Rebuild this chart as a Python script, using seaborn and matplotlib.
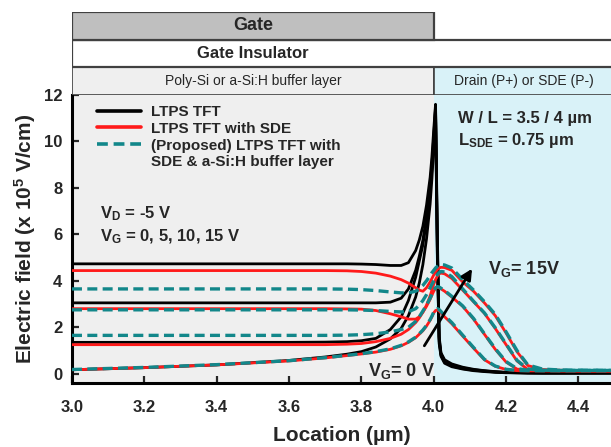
import numpy as np
import pandas as pd
import matplotlib
matplotlib.use("Agg")
import matplotlib.pyplot as plt
from matplotlib.patches import Rectangle
from matplotlib.lines import Line2D
import seaborn as sns

# --- data (location in um, field in 1e5 V/cm) ---
x_loc = [3.00, 3.20, 3.40, 3.60, 3.70, 3.76, 3.80, 3.84, 3.88, 3.91, 3.93, 3.95,
         3.96, 3.97, 3.98, 3.99, 3.995, 4.000, 4.005, 4.010, 4.015, 4.020, 4.030,
         4.050, 4.080, 4.110, 4.140, 4.170, 4.200, 4.230, 4.260, 4.300, 4.350,
         4.400, 4.500]
vg_values = [0, 5, 10, 15]

ltps = {
    15: [4.73, 4.73, 4.73, 4.73, 4.73, 4.73, 4.72, 4.70, 4.66, 4.66, 4.78, 5.30,
         5.75, 6.35, 7.25, 8.45, 9.35, 10.5, 11.6, 6.00, 1.60, 0.90, 0.60,
         0.42, 0.28, 0.19, 0.13, 0.09, 0.06, 0.05, 0.04, 0.03, 0.03, 0.03, 0.03],
    10: [3.05, 3.05, 3.05, 3.05, 3.05, 3.05, 3.05, 3.05, 3.08, 3.25, 3.65, 4.45,
         5.05, 5.75, 6.75, 8.05, 9.00, 10.2, 11.5, 5.50, 1.50, 0.85, 0.55,
         0.38, 0.25, 0.17, 0.12, 0.08, 0.05, 0.04, 0.04, 0.03, 0.03, 0.03, 0.03],
    5:  [1.35, 1.35, 1.35, 1.35, 1.36, 1.38, 1.42, 1.52, 1.90, 2.45, 3.15, 4.15,
         4.85, 5.55, 6.55, 7.85, 8.80, 10.0, 11.4, 5.20, 1.40, 0.80, 0.50,
         0.33, 0.22, 0.15, 0.11, 0.07, 0.05, 0.04, 0.03, 0.03, 0.03, 0.03, 0.03],
    0:  [0.17, 0.26, 0.38, 0.57, 0.72, 0.84, 0.95, 1.15, 1.50, 1.95, 2.50, 3.30,
         3.90, 4.70, 5.80, 7.30, 8.40, 9.80, 11.2, 5.00, 1.30, 0.75, 0.45,
         0.30, 0.20, 0.13, 0.09, 0.06, 0.04, 0.04, 0.03, 0.03, 0.03, 0.03, 0.03],
}
ltps_sde = {
    15: [4.44, 4.44, 4.44, 4.44, 4.44, 4.43, 4.40, 4.33, 4.20, 4.05, 3.90, 3.70,
         3.60, 3.55, 3.70, 3.95, 4.10, 4.25, 4.38, 4.48, 4.55, 4.58, 4.57,
         4.45, 3.95, 3.55, 3.05, 2.50, 1.75, 0.95, 0.35, 0.18, 0.15, 0.13, 0.12],
    10: [2.80, 2.80, 2.80, 2.80, 2.80, 2.79, 2.78, 2.72, 2.58, 2.45, 2.35, 2.35,
         2.45, 2.65, 2.95, 3.35, 3.60, 3.85, 4.05, 4.20, 4.30, 4.33, 4.30,
         4.10, 3.60, 3.10, 2.60, 1.95, 1.25, 0.55, 0.18, 0.14, 0.13, 0.12, 0.12],
    5:  [1.25, 1.25, 1.25, 1.25, 1.25, 1.27, 1.30, 1.38, 1.52, 1.70, 1.90, 2.20,
         2.40, 2.65, 2.90, 3.20, 3.38, 3.55, 3.68, 3.72, 3.70, 3.65, 3.55,
         3.30, 2.90, 2.35, 1.70, 1.05, 0.50, 0.20, 0.14, 0.13, 0.12, 0.12, 0.12],
    0:  [0.17, 0.26, 0.38, 0.55, 0.68, 0.78, 0.85, 0.93, 1.05, 1.20, 1.35, 1.55,
         1.70, 1.85, 2.05, 2.30, 2.45, 2.62, 2.72, 2.75, 2.70, 2.62, 2.45,
         2.15, 1.62, 1.10, 0.60, 0.32, 0.18, 0.13, 0.12, 0.12, 0.12, 0.12, 0.12],
}
proposed = {
    15: [3.65, 3.65, 3.65, 3.65, 3.65, 3.64, 3.62, 3.58, 3.52, 3.48, 3.48, 3.55,
         3.65, 3.80, 4.00, 4.22, 4.35, 4.45, 4.55, 4.62, 4.67, 4.70, 4.68,
         4.55, 4.05, 3.60, 3.10, 2.55, 1.80, 1.00, 0.38, 0.20, 0.16, 0.15, 0.14],
    10: [2.75, 2.75, 2.75, 2.75, 2.75, 2.75, 2.74, 2.72, 2.68, 2.66, 2.67, 2.80,
         2.95, 3.15, 3.40, 3.70, 3.85, 4.00, 4.15, 4.27, 4.35, 4.40, 4.38,
         4.18, 3.65, 3.12, 2.62, 1.98, 1.28, 0.58, 0.20, 0.15, 0.14, 0.14, 0.14],
    5:  [1.65, 1.65, 1.65, 1.65, 1.65, 1.66, 1.68, 1.72, 1.80, 1.90, 2.00, 2.25,
         2.45, 2.70, 2.95, 3.25, 3.42, 3.58, 3.70, 3.75, 3.73, 3.68, 3.58,
         3.33, 2.92, 2.38, 1.72, 1.08, 0.52, 0.22, 0.15, 0.14, 0.14, 0.14, 0.14],
    0:  [0.18, 0.27, 0.39, 0.56, 0.69, 0.79, 0.86, 0.95, 1.07, 1.22, 1.37, 1.57,
         1.72, 1.88, 2.08, 2.33, 2.48, 2.65, 2.76, 2.80, 2.76, 2.68, 2.50,
         2.20, 1.66, 1.13, 0.62, 0.33, 0.19, 0.14, 0.13, 0.13, 0.13, 0.13, 0.13],
}

# --- styles ---
BLACK = "#000000"
RED = "#ff1a1a"
TEAL = "#12878a"
GRAY_BG = "#efefef"
BLUE_BG = "#d9f2f8"

sns.set_theme(style="ticks")
plt.rcParams["font.family"] = ["Liberation Sans", "DejaVu Sans"]
plt.rcParams["font.weight"] = "bold"
plt.rcParams["mathtext.fontset"] = "custom"
plt.rcParams["mathtext.rm"] = "Liberation Sans:bold"
plt.rcParams["mathtext.bf"] = "Liberation Sans:bold"
plt.rcParams["mathtext.it"] = "Liberation Sans:bold"
plt.rcParams["mathtext.default"] = "bf"

fig = plt.figure(figsize=(6.11, 4.47), dpi=100)
ax = fig.add_axes([0.1178, 0.1432, 0.8822, 0.6443])
hx = fig.add_axes([0.1178, 0.7875, 0.8822, 0.1857], sharex=ax)

ax.axvspan(3.0, 4.0, color=GRAY_BG, zorder=0, lw=0)
ax.axvspan(4.0, 4.6, color=BLUE_BG, zorder=0, lw=0)

for vg in vg_values:
    sns.lineplot(x=x_loc, y=ltps[vg], color=BLACK, lw=2.0, ax=ax, zorder=3)
for vg in vg_values:
    sns.lineplot(x=x_loc, y=ltps_sde[vg], color=RED, lw=2.0, ax=ax, zorder=4)
for vg in vg_values:
    sns.lineplot(x=x_loc, y=proposed[vg], color=TEAL, lw=2.4,
                 linestyle=(0, (3, 1.6)), ax=ax, zorder=5)

ax.set_xlim(3.0, 4.49)
ax.set_ylim(-0.4, 12.0)
ax.set_xticks([3.0, 3.2, 3.4, 3.6, 3.8, 4.0, 4.2, 4.4])
ax.set_xticklabels(["3.0", "3.2", "3.4", "3.6", "3.8", "4.0", "4.2", "4.4"])
ax.set_yticks([0, 2, 4, 6, 8, 10, 12])
ax.tick_params(direction="in", length=5, width=1.6, labelsize=12)
ax.tick_params(axis="x", pad=12)
ax.tick_params(axis="y", pad=7)
for lab in ax.get_xticklabels() + ax.get_yticklabels():
    lab.set_fontweight("bold")
for side in ["left", "bottom"]:
    ax.spines[side].set_linewidth(2.2)
    ax.spines[side].set_color("black")
ax.spines["top"].set_visible(False)
ax.spines["right"].set_visible(False)

ax.set_xlabel("Location (µm)", fontsize=15, fontweight="bold", labelpad=8)
ax.set_ylabel("Electric field (x 10$^5$ V/cm)", fontsize=15, fontweight="bold",
              labelpad=4)

# --- legend ---
handles = [Line2D([], [], color=BLACK, lw=2.6),
           Line2D([], [], color=RED, lw=2.6),
           Line2D([], [], color=TEAL, lw=2.6, linestyle=(0, (3, 1.6))),
           Line2D([], [], color="none")]
labels = ["LTPS TFT", "LTPS TFT with SDE", "(Proposed) LTPS TFT with",
          "SDE & a-Si:H buffer layer"]
leg = ax.legend(handles, labels, loc="upper left", bbox_to_anchor=(0.046, 0.965),
                frameon=False, fontsize=11, handlelength=2.9, handletextpad=0.65,
                labelspacing=0.18, borderpad=0, borderaxespad=0)
for t in leg.get_texts():
    t.set_fontweight("bold")

# --- annotations ---
ax.text(3.078, 6.9, "V$_D$ = -5 V", fontsize=12, fontweight="bold", va="center")
ax.text(3.078, 5.9, "V$_G$ = 0, 5, 10, 15 V", fontsize=12, fontweight="bold",
        va="center")
ax.text(4.066, 11.0, "W / L = 3.5 / 4 µm", fontsize=12, fontweight="bold",
        va="center")
ax.text(4.066, 10.05, "L$_{SDE}$ = 0.75 µm", fontsize=12, fontweight="bold",
        va="center")
ax.text(4.15, 4.5, "V$_G$= 15V", fontsize=13, fontweight="bold", va="center",
        zorder=6)
ax.text(3.818, 0.12, "V$_G$= 0 V", fontsize=13, fontweight="bold", va="center",
        zorder=6)
ax.annotate("", xy=(4.11, 4.62), xytext=(3.97, 1.1),
            arrowprops=dict(arrowstyle="-|>", color="black", lw=2.0,
                            mutation_scale=16), zorder=7)

# --- device stack header ---
hx.set_ylim(0, 3)
hx.axis("off")
edge = "#404040"
hx.add_patch(Rectangle((3.0, 0), 1.0, 1, facecolor=GRAY_BG, edgecolor=edge, lw=1.2))
hx.add_patch(Rectangle((4.0, 0), 0.6, 1, facecolor=BLUE_BG, edgecolor=edge, lw=1.2))
hx.add_patch(Rectangle((3.0, 1), 1.6, 1, facecolor="white", edgecolor=edge, lw=1.6))
hx.add_patch(Rectangle((3.0, 2), 1.0, 1, facecolor="#bfbfbf", edgecolor=edge, lw=1.6))
hx.text(3.5, 2.5, "Gate", ha="center", va="center", fontsize=13, fontweight="bold")
hx.text(3.5, 1.5, "Gate Insulator", ha="center", va="center", fontsize=12,
        fontweight="bold")
hx.text(3.5, 0.5, "Poly-Si or a-Si:H buffer layer", ha="center", va="center",
        fontsize=10, fontweight="normal")
hx.text(4.25, 0.5, "Drain (P+) or SDE (P-)", ha="center", va="center",
        fontsize=10, fontweight="normal")

fig.savefig("out.png", dpi=100)
